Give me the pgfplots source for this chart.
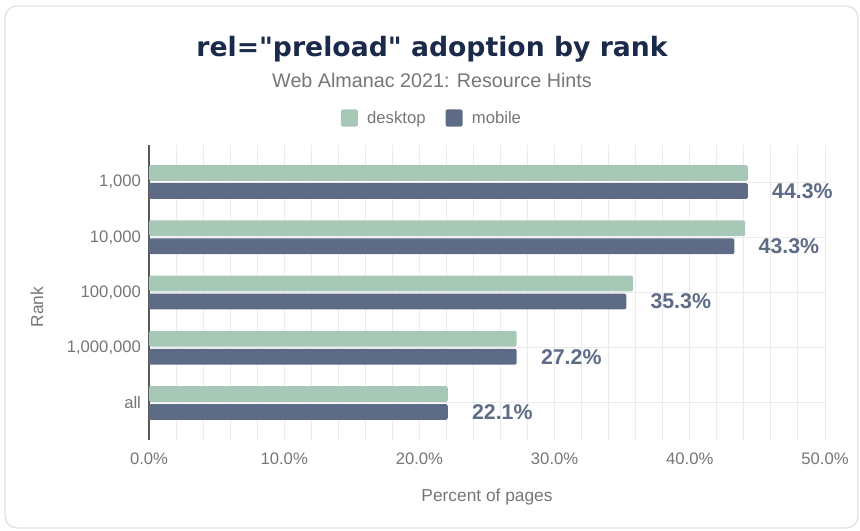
\documentclass[border=0pt]{standalone}
\usepackage{pgfplots}
\pgfplotsset{compat=1.18}
\usepackage{fontspec}
\setmainfont{Liberation Sans}
\newfontfamily\titlefont{DejaVu Sans}
\definecolor{desk}{HTML}{A7C8B7}
\definecolor{mob}{HTML}{5D6B86}
\definecolor{titlec}{HTML}{1B2A4A}
\definecolor{txtgrey}{HTML}{767676}
\definecolor{gridc}{HTML}{EBEBEB}
\definecolor{framec}{HTML}{E3E3E3}
\begin{document}
\begin{tikzpicture}[x=0.75pt,y=0.75pt]
\path[use as bounding box] (0,0) rectangle (860,531);
\draw[framec, line width=1.1pt, rounded corners=9pt] (5,3) rectangle (858,525);
\node[anchor=base, text=titlec, font=\titlefont\bfseries\fontsize{20}{23}\selectfont] at (432,474) {rel="preload" adoption by rank};
\node[anchor=base, text=txtgrey, font=\fontsize{14.8}{17}\selectfont] at (432,443) {Web Almanac 2021: Resource Hints};
\begin{axis}[
  at={(111.75pt,68.25pt)}, anchor=south west,
  scale only axis, width=507pt, height=221.25pt,
  xbar, bar width=11.8pt,
  xmin=0, xmax=50, ymin=-0.67, ymax=4.67,
  ytick={0,1,2,3,4},
  yticklabels={all,{1,000,000},{100,000},{10,000},{1,000}},
  xtick={0,10,20,30,40,50},
  minor xtick={2,4,6,8,12,14,16,18,22,24,26,28,32,34,36,38,42,44,46,48},
  xticklabel={\pgfmathprintnumber[fixed,fixed zerofill,precision=1]{\tick}\%},
  /pgf/number format/assume math mode=true,
  grid=both,
  major grid style={gridc, line width=0.75pt},
  minor grid style={gridc, line width=0.75pt},
  major tick length=0pt, minor tick length=0pt,
  axis lines*=left,
  x axis line style={draw=none},
  y axis line style={draw=black!65, line width=1pt},
  ticklabel style={text=txtgrey, font=\fontsize{12.5}{14}\selectfont},
  xticklabel style={yshift=-6pt},
  yticklabel style={xshift=-2.5pt},
  xlabel={Percent of pages},
  ylabel={Rank},
  every axis x label/.style={at={(axis description cs:0.5,-0.193)}, anchor=center, text=txtgrey, font=\fontsize{13}{15}\selectfont},
  every axis y label/.style={at={(axis description cs:-0.1657,0.45)}, rotate=90, anchor=center, text=txtgrey, font=\fontsize{13}{15}\selectfont},
  legend columns=2,
  legend style={at={(axis description cs:0.419,1.0915)}, anchor=center, draw=none, fill=none,
    font=\fontsize{12.5}{14}\selectfont, text=txtgrey,
    /tikz/every odd column/.append style={column sep=5pt},
    /tikz/every even column/.append style={column sep=13pt}},
  legend cell align=left,
  clip=false,
]
\addplot[fill=desk, draw=none, rounded corners=1.5pt, bar shift=6.75pt,
  legend image code/.code={\fill[desk, rounded corners=1.5pt] (0pt,-6.4pt) rectangle (12.75pt,6.4pt);}]
  coordinates {(22.1,0) (27.2,1) (35.8,2) (44.1,3) (44.3,4)};
\addlegendentry{desktop}
\addplot[fill=mob, draw=none, rounded corners=1.5pt, bar shift=-6.75pt,
  point meta=x,
  nodes near coords={\pgfmathprintnumber[fixed,fixed zerofill,precision=1]{\pgfplotspointmeta}\%},
  nodes near coords style={anchor=west, inner sep=0pt, xshift=18pt, text=mob, font=\bfseries\fontsize{16}{18}\selectfont},
  legend image code/.code={\fill[mob, rounded corners=1.5pt] (0pt,-6.4pt) rectangle (12.75pt,6.4pt);}]
  coordinates {(22.1,0) (27.2,1) (35.3,2) (43.3,3) (44.3,4)};
\addlegendentry{mobile}
\end{axis}
\end{tikzpicture}
\end{document}
